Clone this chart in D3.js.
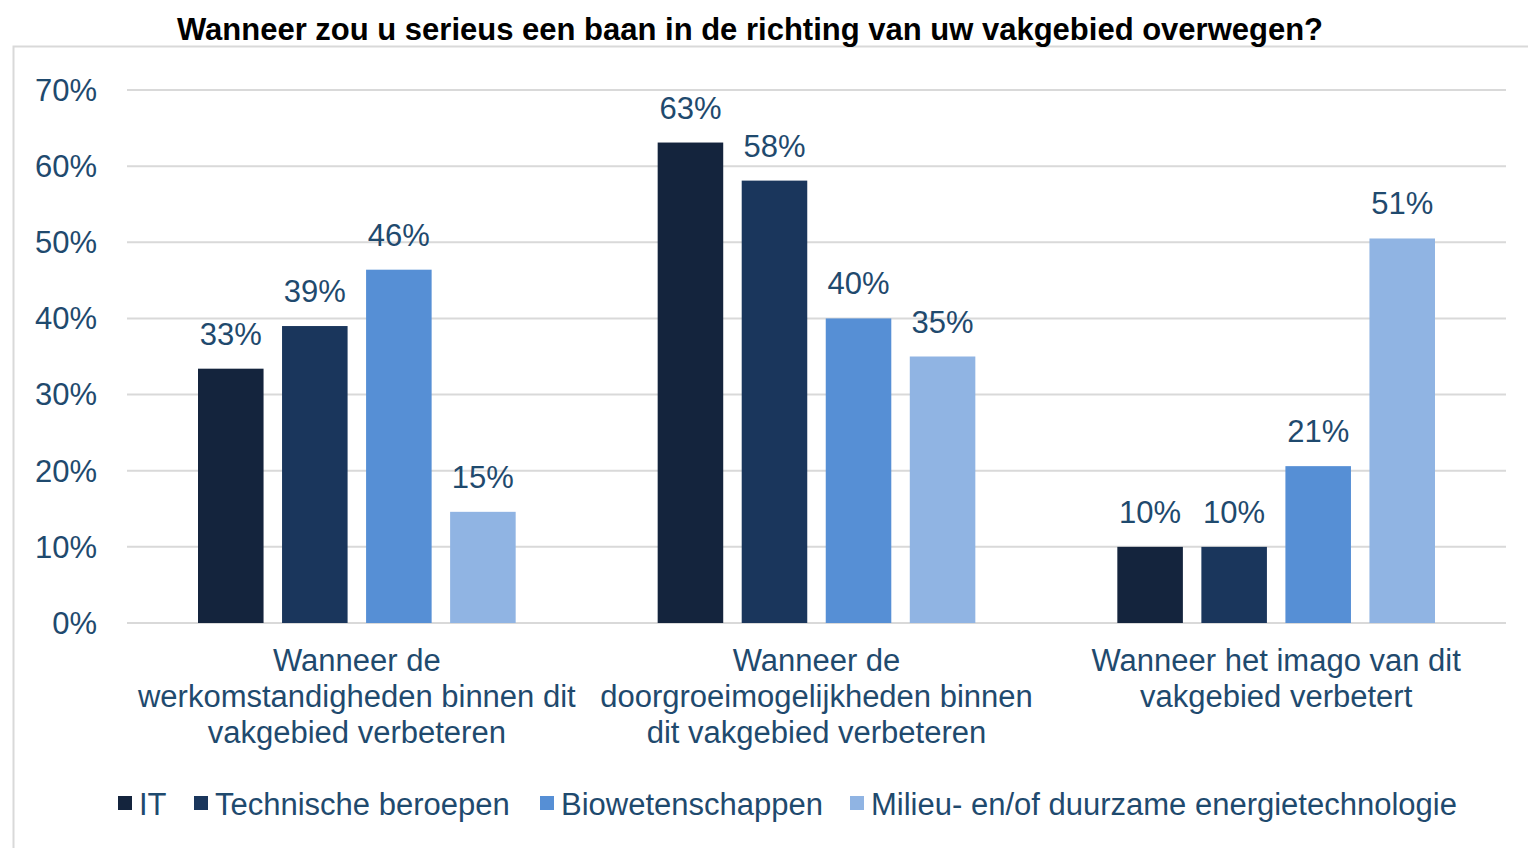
<!DOCTYPE html>
<html>
<head>
<meta charset="utf-8">
<script src="https://cdn.jsdelivr.net/npm/d3@7"></script>
<style>
  body { margin: 0; background: #fff; }
  svg { display: block; font-family: "Liberation Sans", Arial, sans-serif; }
</style>
</head>
<body>
<div id="chart"></div>
<script>
// donnees
const categories = [
    ["Wanneer de", "werkomstandigheden binnen dit", "vakgebied verbeteren"],
    ["Wanneer de", "doorgroeimogelijkheden binnen", "dit vakgebied verbeteren"],
    ["Wanneer het imago van dit", "vakgebied verbetert"]
];
const series = ["IT", "Technische beroepen", "Biowetenschappen", "Milieu- en/of duurzame energietechnologie"];
const colors = ["#14243d", "#1a365c", "#568fd5", "#90b4e3"];
const values = [
    [0.334, 0.39, 0.464, 0.146],
    [0.631, 0.581, 0.40, 0.35],
    [0.10, 0.10, 0.206, 0.505]
];
const yTicks = [0, 0.1, 0.2, 0.3, 0.4, 0.5, 0.6, 0.7];
const title = "Wanneer zou u serieus een baan in de richting van uw vakgebied overwegen?";

const width = 1528, height = 848;
const margin = { top: 90, right: 22, bottom: 225, left: 127 };
const textColor = "#1f4a6e";
const fontSize = "31px";

const svg = d3.select("#chart")
    .append("svg")
    .attr("width", width)
    .attr("height", height);

// cadre
svg.append("rect")
    .attr("x", 13.5).attr("y", 46.5)
    .attr("width", width).attr("height", height)
    .attr("fill", "none")
    .attr("stroke", "#d9d9d9")
    .attr("stroke-width", 2);

svg.append("text")
    .attr("x", 750).attr("y", 40)
    .attr("text-anchor", "middle")
    .style("font-weight", "bold")
    .style("font-size", "31px")
    .attr("fill", "#000")
    .text(title);

const y = d3.scaleLinear()
    .domain([0, 0.7])
    .range([623, margin.top]);

const x0 = d3.scaleBand()
    .domain(d3.range(categories.length))
    .range([margin.left, width - margin.right])
    .padding(0);

const inner = 71;
const x1 = d3.scaleBand()
    .domain(d3.range(series.length))
    .range([inner, x0.bandwidth() - inner])
    .paddingInner(0.22)
    .paddingOuter(0);

// grille
svg.append("g")
    .selectAll("line")
    .data(yTicks)
    .join("line")
    .attr("x1", margin.left).attr("x2", width - margin.right)
    .attr("y1", d => y(d)).attr("y2", d => y(d))
    .attr("stroke", "#d9d9d9")
    .attr("stroke-width", 2);

svg.append("g")
    .selectAll("text")
    .data(yTicks)
    .join("text")
    .attr("x", 97)
    .attr("y", d => y(d))
    .attr("dy", "0.35em")
    .attr("text-anchor", "end")
    .style("font-size", fontSize)
    .attr("fill", textColor)
    .text(d3.format(".0%"));

const groups = svg.append("g")
    .selectAll("g")
    .data(values)
    .join("g")
    .attr("transform", (d, i) => `translate(${x0(i)},0)`);

groups.selectAll("rect")
    .data(d => d)
    .join("rect")
    .attr("x", (d, j) => x1(j))
    .attr("y", d => y(d))
    .attr("width", x1.bandwidth())
    .attr("height", d => y(0) - y(d))
    .attr("fill", (d, j) => colors[j]);

groups.selectAll("text")
    .data(d => d)
    .join("text")
    .attr("x", (d, j) => x1(j) + x1.bandwidth() / 2)
    .attr("y", d => y(d) - 24)
    .attr("text-anchor", "middle")
    .style("font-size", fontSize)
    .attr("fill", textColor)
    .text(d3.format(".0%"));

// etiquettes des categories
svg.append("g")
    .selectAll("text")
    .data(categories)
    .join("text")
    .attr("x", (d, i) => x0(i) + x0.bandwidth() / 2)
    .attr("y", 671)
    .attr("text-anchor", "middle")
    .style("font-size", fontSize)
    .attr("fill", textColor)
    .selectAll("tspan")
    .data(d => d)
    .join("tspan")
    .attr("x", function () { return this.parentNode.getAttribute("x"); })
    .attr("dy", (d, k) => k === 0 ? 0 : 36)
    .text(d => d);

// legende
const legendX = [118, 194, 540, 850];
const legend = svg.append("g")
    .selectAll("g")
    .data(series)
    .join("g")
    .attr("transform", (d, i) => `translate(${legendX[i]},796)`);

legend.append("rect")
    .attr("width", 14).attr("height", 14)
    .attr("fill", (d, i) => colors[i]);

legend.append("text")
    .attr("x", 21).attr("y", 19)
    .style("font-size", fontSize)
    .attr("fill", textColor)
    .text(d => d);
</script>
</body>
</html>
